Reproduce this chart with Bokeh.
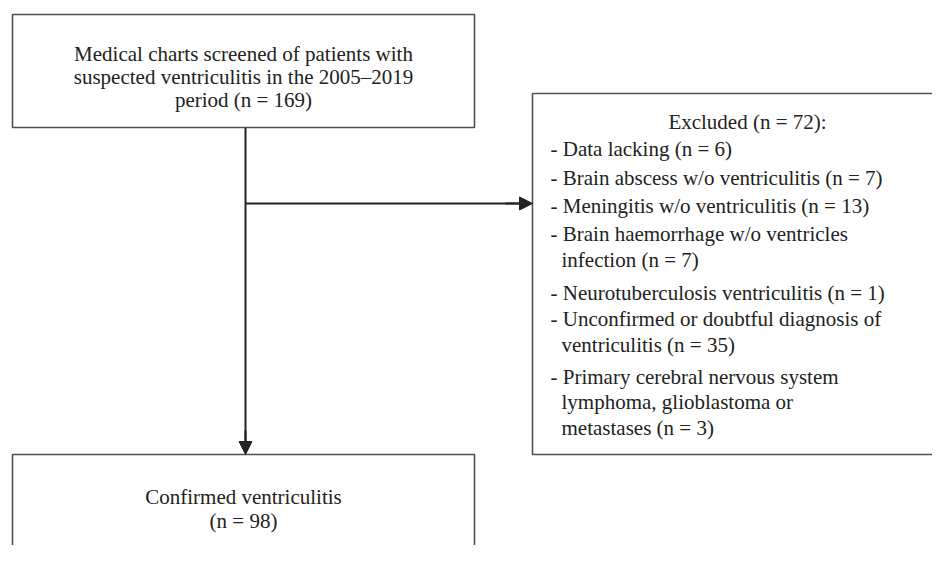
from bokeh.plotting import figure
from bokeh.models import Range1d, Arrow, NormalHead
from bokeh.core.properties import value
from bokeh.embed import file_html
from bokeh.resources import INLINE

# ---- data ----
screened_n = 169
period = "2005\u20132019"
excluded_n = 72
confirmed_n = 98
reasons = [
    ["Data lacking (n = 6)"],
    ["Brain abscess w/o ventriculitis (n = 7)"],
    ["Meningitis w/o ventriculitis (n = 13)"],
    ["Brain haemorrhage w/o ventricles", "infection (n = 7)"],
    ["Neurotuberculosis ventriculitis (n = 1)"],
    ["Unconfirmed or doubtful diagnosis of", " ventriculitis (n = 35)"],
    ["Primary cerebral nervous system", "lymphoma, glioblastoma or", "metastases (n = 3)"],
]

W, H = 932, 545
p = figure(width=W, height=H, output_backend="svg", toolbar_location=None,
           x_range=Range1d(0, W), y_range=Range1d(H, 0),
           min_border=0, outline_line_color=None)
p.axis.visible = False
p.grid.visible = False

FONT = value("Liberation Serif")
FS = "21px"
TC = "#222222"
BC = "#505050"

# boxes
p.quad(left=[12, 532, 12], right=[474, 962, 474], top=[14, 93, 454],
       bottom=[127, 454, 600], fill_color="white", line_color=BC, line_width=1.6)

# connectors
p.segment(x0=[245, 245], y0=[127, 203], x1=[245, 520], y1=[444, 203],
          line_color=TC, line_width=2)
p.add_layout(Arrow(end=NormalHead(size=13, fill_color=TC, line_color=TC),
                   x_start=245, y_start=430, x_end=245, y_end=454,
                   line_color=TC, line_width=2))
p.add_layout(Arrow(end=NormalHead(size=13, fill_color=TC, line_color=TC),
                   x_start=505, y_start=203, x_end=532, y_end=203,
                   line_color=TC, line_width=2))

# top box text
top_lines = ["Medical charts screened of patients with",
             f"suspected ventriculitis in the {period}",
             f"period (n = {screened_n})"]
p.text(x=[243] * 3, y=[53, 76, 99], text=top_lines, text_font=FONT,
       text_font_size=FS, text_color=TC, text_align="center", text_baseline="middle")

# bottom box text
p.text(x=[243, 243], y=[496, 520],
       text=["Confirmed ventriculitis", f"(n = {confirmed_n})"], text_font=FONT,
       text_font_size=FS, text_color=TC, text_align="center", text_baseline="middle")

# right box
p.text(x=[747], y=[121], text=[f"Excluded (n = {excluded_n}):"], text_font=FONT,
       text_font_size=FS, text_color=TC, text_align="center", text_baseline="middle")

ys_all = [148, 177, 205, 233, 259, 292, 318, 344, 376, 401, 427]
xs, ys, ts = [], [], []
i = 0
for item in reasons:
    for j, line in enumerate(item):
        if j == 0:
            xs.append(550); ts.append("- " + line)
        else:
            xs.append(561); ts.append(line)
        ys.append(ys_all[i]); i += 1
p.text(x=xs, y=ys, text=ts, text_font=FONT, text_font_size=FS, text_color=TC,
       text_align="left", text_baseline="middle")

open("out.html", "w").write(file_html(p, INLINE))
